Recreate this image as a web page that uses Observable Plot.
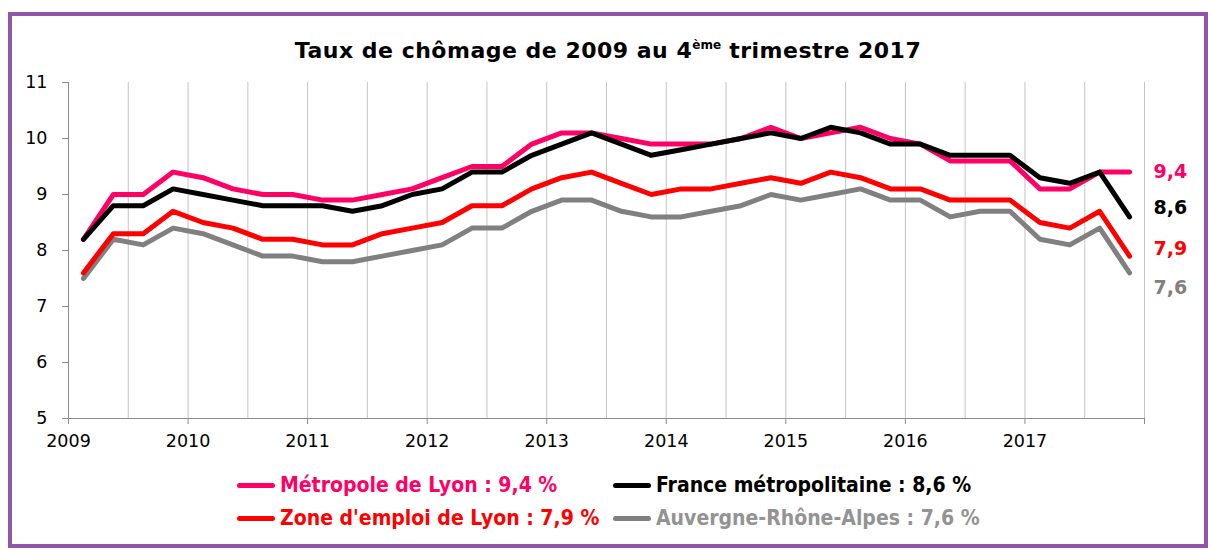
<!DOCTYPE html>
<html>
<head>
<meta charset="utf-8">
<script src="https://cdn.jsdelivr.net/npm/d3@7"></script>
<script src="https://cdn.jsdelivr.net/npm/@observablehq/plot@0.6"></script>
<style>
  html, body { margin: 0; padding: 0; background: #fff; }
  #page { position: relative; width: 1208px; height: 552px; overflow: hidden; background: #fff; }
  #frame { position: absolute; left: 8px; top: 12px; width: 1200px; height: 536px; box-sizing: border-box; border: 4.5px solid #9157a6; }
  #title { position: absolute; left: 8px; width: 1200px; top: 32px; text-align: center; font-family: "DejaVu Sans", Verdana, sans-serif; font-weight: bold; font-size: 22px; letter-spacing: 0.5px; line-height: 26px; color: #000; }
  #title sup { font-size: 12px; vertical-align: 9px; letter-spacing: 0; }
  #chart { position: absolute; left: 0; top: 0; }
  .leg { position: absolute; display: flex; align-items: center; font-family: "DejaVu Sans Condensed", "DejaVu Sans", sans-serif; font-weight: bold; font-size: 21px; white-space: nowrap; }
  .leg .sw { display: inline-block; width: 38px; height: 5px; border-radius: 3px; margin-right: 5px; }
</style>
</head>
<body>
<div id="page">
  <div id="frame"></div>
  <div id="title"></div>
  <div id="chart"></div>
  <div id="legend"></div>
</div>
<script>
// ---- Data ----
const firstYear = 2009;
const yearTicks = [2009, 2010, 2011, 2012, 2013, 2014, 2015, 2016, 2017, 2018];
const yTicks = [5, 6, 7, 8, 9, 10, 11];
const seriesNames = ["Métropole de Lyon", "France métropolitaine", "Zone d'emploi de Lyon", "Auvergne-Rhône-Alpes"];
const seriesColors = ["#ff0066", "#000000", "#ff0000", "#808080"];
const lastLabels = ["9,4", "8,6", "7,9", "7,6"];

const metropole = [8.2,9.0,9.0,9.4,9.3,9.1,9.0,9.0,8.9,8.9,9.0,9.1,9.3,9.5,9.5,9.9,10.1,10.1,10.0,9.9,9.9,9.9,10.0,10.2,10.0,10.1,10.2,10.0,9.9,9.6,9.6,9.6,9.1,9.1,9.4,9.4];
const france    = [8.2,8.8,8.8,9.1,9.0,8.9,8.8,8.8,8.8,8.7,8.8,9.0,9.1,9.4,9.4,9.7,9.9,10.1,9.9,9.7,9.8,9.9,10.0,10.1,10.0,10.2,10.1,9.9,9.9,9.7,9.7,9.7,9.3,9.2,9.4,8.6];
const zone      = [7.6,8.3,8.3,8.7,8.5,8.4,8.2,8.2,8.1,8.1,8.3,8.4,8.5,8.8,8.8,9.1,9.3,9.4,9.2,9.0,9.1,9.1,9.2,9.3,9.2,9.4,9.3,9.1,9.1,8.9,8.9,8.9,8.5,8.4,8.7,7.9];
const ara       = [7.5,8.2,8.1,8.4,8.3,8.1,7.9,7.9,7.8,7.8,7.9,8.0,8.1,8.4,8.4,8.7,8.9,8.9,8.7,8.6,8.6,8.7,8.8,9.0,8.9,9.0,9.1,8.9,8.9,8.6,8.7,8.7,8.2,8.1,8.4,7.6];

const seriesValues = [metropole, france, zone, ara];

// quarter i -> middle of the quarter on a continuous year axis
const qTime = i => firstYear + Math.floor(i / 4) + ((i % 4) + 0.5) / 4;

// half-year gridlines
const gridX = d3.range(firstYear + 0.5, 2018.01, 0.5);

// ---- Title ----
document.getElementById("title").innerHTML = "Taux de chômage de 2009 au 4<sup>ème</sup> trimestre 2017";

// ---- Chart ----
const labelDy = [0, -9, -7, 15];
const drawOrder = [3, 2, 0, 1];

const lineMarks = drawOrder.map(s =>
  Plot.line(seriesValues[s].map((v, i) => ({t: qTime(i), v})), {
    x: "t", y: "v", stroke: seriesColors[s], strokeWidth: 5,
    strokeLinejoin: "round", strokeLinecap: "round"
  })
);

const labelMarks = seriesValues.map((vals, s) =>
  Plot.text([{t: qTime(vals.length - 1), v: vals[vals.length - 1], label: lastLabels[s]}], {
    x: "t", y: "v", text: "label", fill: seriesColors[s], dx: 24, dy: labelDy[s],
    textAnchor: "start", fontWeight: "bold", fontSize: 19
  })
);

const chart = Plot.plot({
  width: 1208,
  height: 460,
  marginLeft: 68,
  marginRight: 64,
  marginTop: 82,
  marginBottom: 42,
  style: {fontFamily: "DejaVu Sans, sans-serif", fontSize: "17.5px", color: "#000", background: "transparent"},
  x: {domain: [2009, 2018]},
  y: {domain: [5, 11]},
  marks: [
    Plot.ruleX(gridX, {stroke: "#c4c4c4", strokeWidth: 1}),
    Plot.ruleX([2009], {stroke: "#8c8c8c", strokeWidth: 1}),
    Plot.ruleY([5], {stroke: "#8c8c8c", strokeWidth: 1}),
    Plot.axisX({ticks: yearTicks, tickFormat: d => d < 2018 ? String(d) : "", tickSize: 6, tickPadding: 10, fontSize: 17.5, stroke: "#8c8c8c", fill: "#000", label: null}),
    Plot.axisY({ticks: yTicks, tickFormat: d => String(d), tickSize: 6, tickPadding: 15, fontSize: 17.5, stroke: "#8c8c8c", fill: "#000", label: null}),
    ...lineMarks,
    ...labelMarks
  ]
});
document.getElementById("chart").appendChild(chart);

// ---- Legend ----
const legendText = [
  "Métropole de Lyon : 9,4 %",
  "France métropolitaine : 8,6 %",
  "Zone d'emploi de Lyon : 7,9 %",
  "Auvergne-Rhône-Alpes : 7,6 %"
];
const legendTextColor = ["#ff0066", "#000000", "#ff0000", "#939393"];
const legendPos = [[237, 485], [613, 485], [237, 518], [613, 518]];
const legend = document.getElementById("legend");
legendText.forEach((txt, s) => {
  const d = document.createElement("div");
  d.className = "leg";
  d.style.left = legendPos[s][0] + "px";
  d.style.top = (legendPos[s][1] - 13) + "px";
  d.style.height = "26px";
  d.style.color = legendTextColor[s];
  const sw = document.createElement("span");
  sw.className = "sw";
  sw.style.background = seriesColors[s];
  d.appendChild(sw);
  d.appendChild(document.createTextNode(txt));
  legend.appendChild(d);
});
</script>
</body>
</html>
